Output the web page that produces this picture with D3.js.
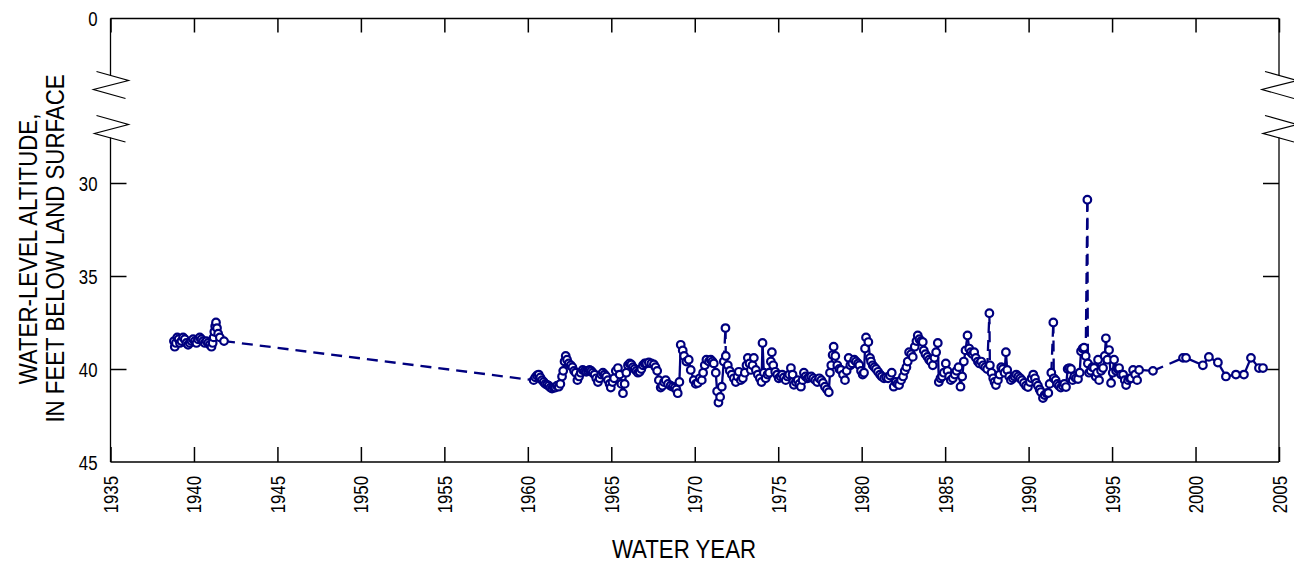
<!DOCTYPE html>
<html lang="en">
<head>
<meta charset="utf-8">
<script src="https://d3js.org/d3.v7.min.js"></script>
<style>
  body { margin: 0; background: #fff; }
  svg text { font-family: 'Liberation Sans', Arial, sans-serif; fill: #000; }
</style>
</head>
<body>
<svg id="chart" width="1294" height="563"></svg>
<script>
// water years (decimal) and depth to water, feet below land surface
var years = [
  1938.80, 1938.85, 1938.92, 1939.00, 1939.08, 1939.16, 1939.25, 1939.35, 1939.45, 1939.55,
  1939.65, 1939.75, 1939.85, 1939.95, 1940.05, 1940.15, 1940.25, 1940.35, 1940.45, 1940.55,
  1940.65, 1940.75, 1940.85, 1940.95, 1941.05, 1941.12, 1941.18, 1941.22, 1941.27, 1941.32,
  1941.38, 1941.45, 1941.55, 1941.80,
  1960.35, 1960.45, 1960.55, 1960.65, 1960.75, 1960.85, 1960.95, 1961.05, 1961.15, 1961.25,
  1961.35, 1961.45, 1961.55, 1961.65, 1961.75, 1961.85, 1961.95, 1962.05, 1962.12, 1962.20,
  1962.27, 1962.35, 1962.45, 1962.57, 1962.67, 1962.77, 1962.87, 1962.97, 1963.07, 1963.17,
  1963.29, 1963.40, 1963.50, 1963.60, 1963.70, 1963.80, 1963.89, 1964.00, 1964.10, 1964.20,
  1964.30, 1964.40, 1964.50, 1964.60, 1964.70, 1964.80, 1964.90, 1964.97, 1965.07, 1965.17,
  1965.27, 1965.40, 1965.50, 1965.60, 1965.70, 1965.80, 1965.90, 1966.00, 1966.10, 1966.20,
  1966.30, 1966.40, 1966.50, 1966.60, 1966.70, 1966.80, 1966.90, 1967.00, 1967.10, 1967.25,
  1967.40, 1967.55, 1967.65, 1967.75, 1967.85, 1967.96, 1968.06, 1968.16, 1968.26, 1968.40,
  1968.55, 1968.68, 1968.80, 1968.90, 1968.98, 1969.08, 1969.16, 1969.28, 1969.36, 1969.50,
  1969.64, 1969.76, 1969.94, 1970.06, 1970.18, 1970.30, 1970.42, 1970.50, 1970.60, 1970.70,
  1970.85, 1970.96, 1971.06, 1971.14, 1971.26, 1971.34, 1971.42, 1971.52, 1971.62, 1971.74,
  1971.84, 1971.86, 1971.98, 1972.10, 1972.22, 1972.34, 1972.46, 1972.56, 1972.64, 1972.76,
  1972.88, 1973.00, 1973.10, 1973.18, 1973.28, 1973.36, 1973.46, 1973.54, 1973.66, 1973.78,
  1973.90, 1974.00, 1974.06, 1974.14, 1974.25, 1974.36, 1974.46, 1974.56, 1974.62, 1974.70,
  1974.82, 1974.94, 1975.03, 1975.14, 1975.24, 1975.34, 1975.45, 1975.56, 1975.66, 1975.76,
  1975.86, 1975.94, 1976.06, 1976.17, 1976.27, 1976.36, 1976.46, 1976.54, 1976.64, 1976.76,
  1976.86, 1976.98, 1977.10, 1977.22, 1977.34, 1977.46, 1977.58, 1977.68, 1977.80, 1977.92,
  1978.03, 1978.10, 1978.18, 1978.26, 1978.32, 1978.42, 1978.54, 1978.66, 1978.76, 1978.88,
  1979.00, 1979.10, 1979.22, 1979.32, 1979.44, 1979.56, 1979.66, 1979.78, 1979.86, 1979.96,
  1980.06, 1980.14, 1980.20, 1980.26, 1980.40, 1980.50, 1980.56, 1980.66, 1980.76, 1980.86,
  1980.98, 1981.10, 1981.20, 1981.34, 1981.46, 1981.58, 1981.70, 1981.80, 1981.92, 1982.04,
  1982.14, 1982.24, 1982.36, 1982.48, 1982.58, 1982.68, 1982.76, 1982.84, 1982.96, 1983.06,
  1983.18, 1983.28, 1983.36, 1983.46, 1983.56, 1983.66, 1983.72, 1983.82, 1983.94, 1984.04,
  1984.14, 1984.26, 1984.36, 1984.46, 1984.56, 1984.62, 1984.72, 1984.82, 1984.92, 1985.04,
  1985.14, 1985.24, 1985.34, 1985.46, 1985.58, 1985.68, 1985.80, 1985.92, 1986.02, 1986.12,
  1986.22, 1986.34, 1986.44, 1986.54, 1986.64, 1986.74, 1986.84, 1986.96, 1987.06, 1987.16,
  1987.28, 1987.40, 1987.52, 1987.65, 1987.68, 1987.78, 1987.88, 1987.96, 1988.04, 1988.16,
  1988.26, 1988.36, 1988.46, 1988.56, 1988.64, 1988.72, 1988.84, 1988.94, 1989.06, 1989.16,
  1989.26, 1989.38, 1989.50, 1989.60, 1989.72, 1989.84, 1989.96, 1990.08, 1990.18, 1990.28,
  1990.38, 1990.46, 1990.56, 1990.66, 1990.74, 1990.86, 1990.96, 1991.08, 1991.18, 1991.26,
  1991.36, 1991.48, 1991.51, 1991.62, 1991.72, 1991.82, 1991.93, 1992.04, 1992.14, 1992.24,
  1992.34, 1992.44, 1992.54, 1992.64, 1992.74, 1992.84, 1992.96, 1993.06, 1993.14, 1993.24,
  1993.32, 1993.42, 1993.52, 1993.55, 1993.62, 1993.72, 1993.82, 1993.92, 1994.02, 1994.10,
  1994.16, 1994.22, 1994.34, 1994.46, 1994.56, 1994.63, 1994.72, 1994.82, 1994.94, 1995.04,
  1995.12, 1995.24, 1995.34, 1995.42, 1995.54, 1995.66, 1995.76, 1995.84, 1995.96, 1996.06,
  1996.14, 1996.26, 1996.38, 1996.50, 1996.62, 1997.45,
  1999.25, 1999.43, 2000.44, 2000.80, 2001.34, 2001.82, 2002.42, 2002.90, 2003.32, 2003.80,
  2004.04
];
var levels = [
  38.5, 38.8, 38.6, 38.3, 38.4, 38.6, 38.5, 38.3, 38.4, 38.6,
  38.7, 38.6, 38.5, 38.4, 38.5, 38.6, 38.4, 38.3, 38.4, 38.5,
  38.6, 38.5, 38.6, 38.7, 38.8, 38.6, 38.3, 38.0, 37.7, 37.5,
  37.8, 38.1, 38.3, 38.5,
  40.6, 40.45, 40.35, 40.3, 40.45, 40.6, 40.7, 40.8, 40.85, 40.9,
  41.0, 41.05, 41.0, 41.0, 40.9, 40.95, 40.8, 40.4, 40.1, 39.6,
  39.3, 39.5, 39.7, 39.8, 39.9, 40.1, 40.2, 40.6, 40.4, 40.2,
  40.05, 40.1, 40.15, 40.1, 40.05, 40.1, 40.2, 40.3, 40.5, 40.7,
  40.5, 40.3, 40.2, 40.3, 40.4, 40.6, 40.8, 41.0, 40.7, 40.5,
  40.1, 39.95, 40.3, 40.8, 41.3, 40.8, 40.2, 39.8, 39.7, 39.75,
  39.9, 40.0, 40.1, 40.2, 40.15, 40.0, 39.8, 39.7, 39.7, 39.65,
  39.7, 39.75, 39.9, 40.1, 40.6, 41.0, 40.9, 40.7, 40.6, 40.8,
  40.9, 40.95, 41.0, 41.1, 41.3, 40.7, 38.7, 39.0, 39.3, 39.6,
  39.5, 40.05, 40.6, 40.8, 40.75, 40.5, 40.6, 40.2, 39.8, 39.5,
  39.6, 39.5, 39.6, 39.7, 40.2, 41.2, 41.8, 41.5, 40.95, 39.6,
  37.8, 39.3, 39.8, 40.1, 40.3, 40.5, 40.7, 40.4, 40.15, 40.6,
  40.5, 40.2, 39.8, 39.4, 39.7, 40.05, 39.8, 39.4, 40.05, 40.3,
  40.5, 40.7, 38.6, 40.2, 40.5, 40.3, 40.2, 39.6, 39.1, 39.8,
  40.15, 40.3, 40.5, 40.4, 40.3, 40.45, 40.6, 40.4, 40.3, 39.95,
  40.3, 40.85, 40.7, 40.6, 40.8, 40.95, 40.6, 40.2, 40.4, 40.5,
  40.45, 40.4, 40.5, 40.6, 40.7, 40.5, 40.6, 40.75, 40.95, 41.1,
  41.25, 40.2, 39.8, 39.25, 38.8, 39.3, 39.8, 40.0, 40.05, 40.3,
  40.6, 40.1, 39.4, 39.8, 39.7, 39.5, 39.6, 39.7, 39.8, 40.1,
  40.3, 40.2, 38.9, 38.3, 38.55, 39.4, 39.6, 39.8, 39.9, 40.0,
  40.15, 40.3, 40.4, 40.5, 40.45, 40.5, 40.35, 40.2, 40.95, 40.7,
  40.8, 40.86, 40.6, 40.4, 40.1, 39.9, 39.6, 39.1, 39.2, 39.35,
  38.8, 38.5, 38.2, 38.4, 38.5, 38.55, 39.0, 39.2, 39.35, 39.5,
  39.6, 39.8, 39.4, 39.1, 38.6, 40.7, 40.5, 40.4, 40.2, 39.7,
  40.1, 40.4, 40.6, 40.5, 40.3, 40.1, 39.9, 40.95, 40.4, 39.6,
  39.0, 38.2, 38.9, 39.1, 39.2, 39.1, 39.4, 39.6, 39.7, 39.6,
  39.8, 39.9, 40.0, 37.0, 39.8, 40.2, 40.5, 40.7, 40.86, 40.6,
  40.3, 39.9, 40.0, 40.2, 39.1, 40.05, 40.4, 40.6, 40.5, 40.4,
  40.3, 40.4, 40.5, 40.6, 40.75, 40.9, 40.97, 40.7, 40.5, 40.3,
  40.5, 40.75, 40.9, 41.1, 41.24, 41.56, 41.4, 41.3, 41.29, 40.8,
  40.2, 37.5, 40.5, 40.6, 40.8, 40.9, 41.0, 40.9, 40.8, 40.97,
  40.0, 39.95, 40.0, 40.6, 40.4, 40.5, 40.54, 40.2, 39.05, 38.9,
  38.85, 39.3, 30.9, 39.7, 40.2, 40.1, 39.9, 39.95, 40.4, 40.2,
  39.5, 40.6, 40.1, 39.95, 39.3, 38.35, 39.5, 38.98, 40.75, 40.2,
  39.5, 40.1, 40.0, 39.95, 40.3, 40.3, 40.6, 40.86, 40.6, 40.5,
  40.5, 40.05, 40.3, 40.6, 40.05, 40.1,
  39.4, 39.4, 39.8, 39.35, 39.65, 40.4, 40.3, 40.3, 39.4, 39.95,
  39.95
];
// isolated high readings joined with dashed lines
var spikeYears = [1971.84, 1987.65, 1991.48, 1993.52];
var xTickYears = d3.range(1935, 2006, 5);
var yTickValues = [0, 30, 35, 40, 45];
var yInnerTicks = [30, 35, 40];

var navy = '#00007f';
var narrow = 0.8;       // squeeze Liberation Sans to look like a narrow face
var titleNarrow = 0.89;
var svg = d3.select('#chart');
var plotLeft = 110.5, plotRight = 1279, plotTop = 18.5, plotBottom = 462;

var x = d3.scaleLinear().domain([1935, 2005]).range([plotLeft, plotRight]);
// axis is broken between 0 and 30
var y = d3.scaleLinear().domain([0, 30, 45]).range([plotTop, 183, plotBottom]);

var points = years.map(function(t, i) { return { t: t, v: levels[i] }; });
var segs = [];
for (var i = 1; i < points.length; i++) {
  var a = points[i - 1], b = points[i];
  var dashed = (b.t - a.t) > 1.5 || spikeYears.indexOf(a.t) >= 0 || spikeYears.indexOf(b.t) >= 0;
  segs.push({ a: a, b: b, dashed: dashed });
}

// ticks
svg.append('g')
  .attr('transform', 'translate(0,' + plotBottom + ')')
  .call(d3.axisBottom(x).tickValues(xTickYears).tickSize(-15).tickFormat(''))
  .call(function(g) { g.select('.domain').remove(); });
svg.append('g')
  .attr('transform', 'translate(0,' + plotTop + ')')
  .call(d3.axisTop(x).tickValues(xTickYears).tickSize(-14).tickFormat(''))
  .call(function(g) { g.select('.domain').remove(); });
svg.append('g')
  .attr('transform', 'translate(' + plotLeft + ',0)')
  .call(d3.axisLeft(y).tickValues(yInnerTicks).tickSize(-16).tickFormat(''))
  .call(function(g) { g.select('.domain').remove(); });
svg.append('g')
  .attr('transform', 'translate(' + plotRight + ',0)')
  .call(d3.axisRight(y).tickValues(yInnerTicks).tickSize(-16).tickFormat(''))
  .call(function(g) { g.select('.domain').remove(); });
svg.selectAll('.tick line').attr('stroke', '#000').attr('stroke-width', 1.5);

// frame with breaks on both sides
var frame = svg.append('g').attr('fill', 'none').attr('stroke', '#000').attr('stroke-width', 1.3);
frame.append('line').attr('x1', plotLeft).attr('x2', plotRight).attr('y1', plotTop).attr('y2', plotTop);
frame.append('line').attr('x1', plotLeft).attr('x2', plotRight).attr('y1', plotBottom).attr('y2', plotBottom);
[plotLeft, plotRight].forEach(function(sx) {
  frame.append('line').attr('x1', sx).attr('x2', sx).attr('y1', plotTop).attr('y2', 75.5);
  frame.append('line').attr('x1', sx).attr('x2', sx).attr('y1', 137.5).attr('y2', plotBottom);
  var z1 = [[-14, 71.5], [18, 80.5], [-17, 89.5], [15, 98.5]];
  var z2 = [[-14, 115.5], [18, 124.5], [-16, 133.5], [15, 142]];
  [z1, z2].forEach(function(z) {
    frame.append('polyline')
      .attr('stroke-width', 1.2)
      .attr('points', z.map(function(p) { return (sx + p[0]) + ',' + p[1]; }).join(' '));
  });
});

// tick labels
svg.append('g').selectAll('text')
  .data(yTickValues).enter().append('text')
  .attr('transform', function(d) { return 'translate(97.5,' + y(d) + ') scale(' + narrow + ',1)'; })
  .attr('dy', '0.36em')
  .attr('text-anchor', 'end')
  .style('font-size', '21px')
  .text(function(d) { return d; });
svg.append('g').selectAll('text')
  .data(xTickYears).enter().append('text')
  .attr('transform', function(d) {
    return 'translate(' + (x(d) + 7.5) + ',476) rotate(-90) scale(' + narrow + ',1)';
  })
  .attr('text-anchor', 'end')
  .style('font-size', '21px')
  .text(function(d) { return d; });

// axis titles
svg.append('text')
  .attr('transform', 'translate(684,558) scale(' + titleNarrow + ',1)')
  .attr('text-anchor', 'middle')
  .style('font-size', '25px')
  .text('WATER YEAR');
svg.append('text')
  .attr('transform', 'translate(36.5,249) rotate(-90) scale(' + titleNarrow + ',1)')
  .attr('text-anchor', 'middle')
  .style('font-size', '25px')
  .text('WATER-LEVEL ALTITUDE,');
svg.append('text')
  .attr('transform', 'translate(63.5,248.5) rotate(-90) scale(' + titleNarrow + ',1)')
  .attr('text-anchor', 'middle')
  .style('font-size', '25px')
  .text('IN FEET BELOW LAND SURFACE');

// hydrograph
var plot = svg.append('g');
plot.selectAll('line.seg')
  .data(segs).enter().append('line')
  .attr('class', 'seg')
  .attr('x1', function(d) { return x(d.a.t); })
  .attr('y1', function(d) { return y(d.a.v); })
  .attr('x2', function(d) { return x(d.b.t); })
  .attr('y2', function(d) { return y(d.b.v); })
  .attr('stroke', navy)
  .attr('stroke-width', 2.3)
  .attr('stroke-dasharray', function(d) { return d.dashed ? '11,7' : null; });

plot.selectAll('circle')
  .data(points).enter().append('circle')
  .attr('cx', function(d) { return x(d.t); })
  .attr('cy', function(d) { return y(d.v); })
  .attr('r', 3.8)
  .attr('fill', '#fff')
  .attr('stroke', navy)
  .attr('stroke-width', 2.2);
</script>
</body>
</html>
